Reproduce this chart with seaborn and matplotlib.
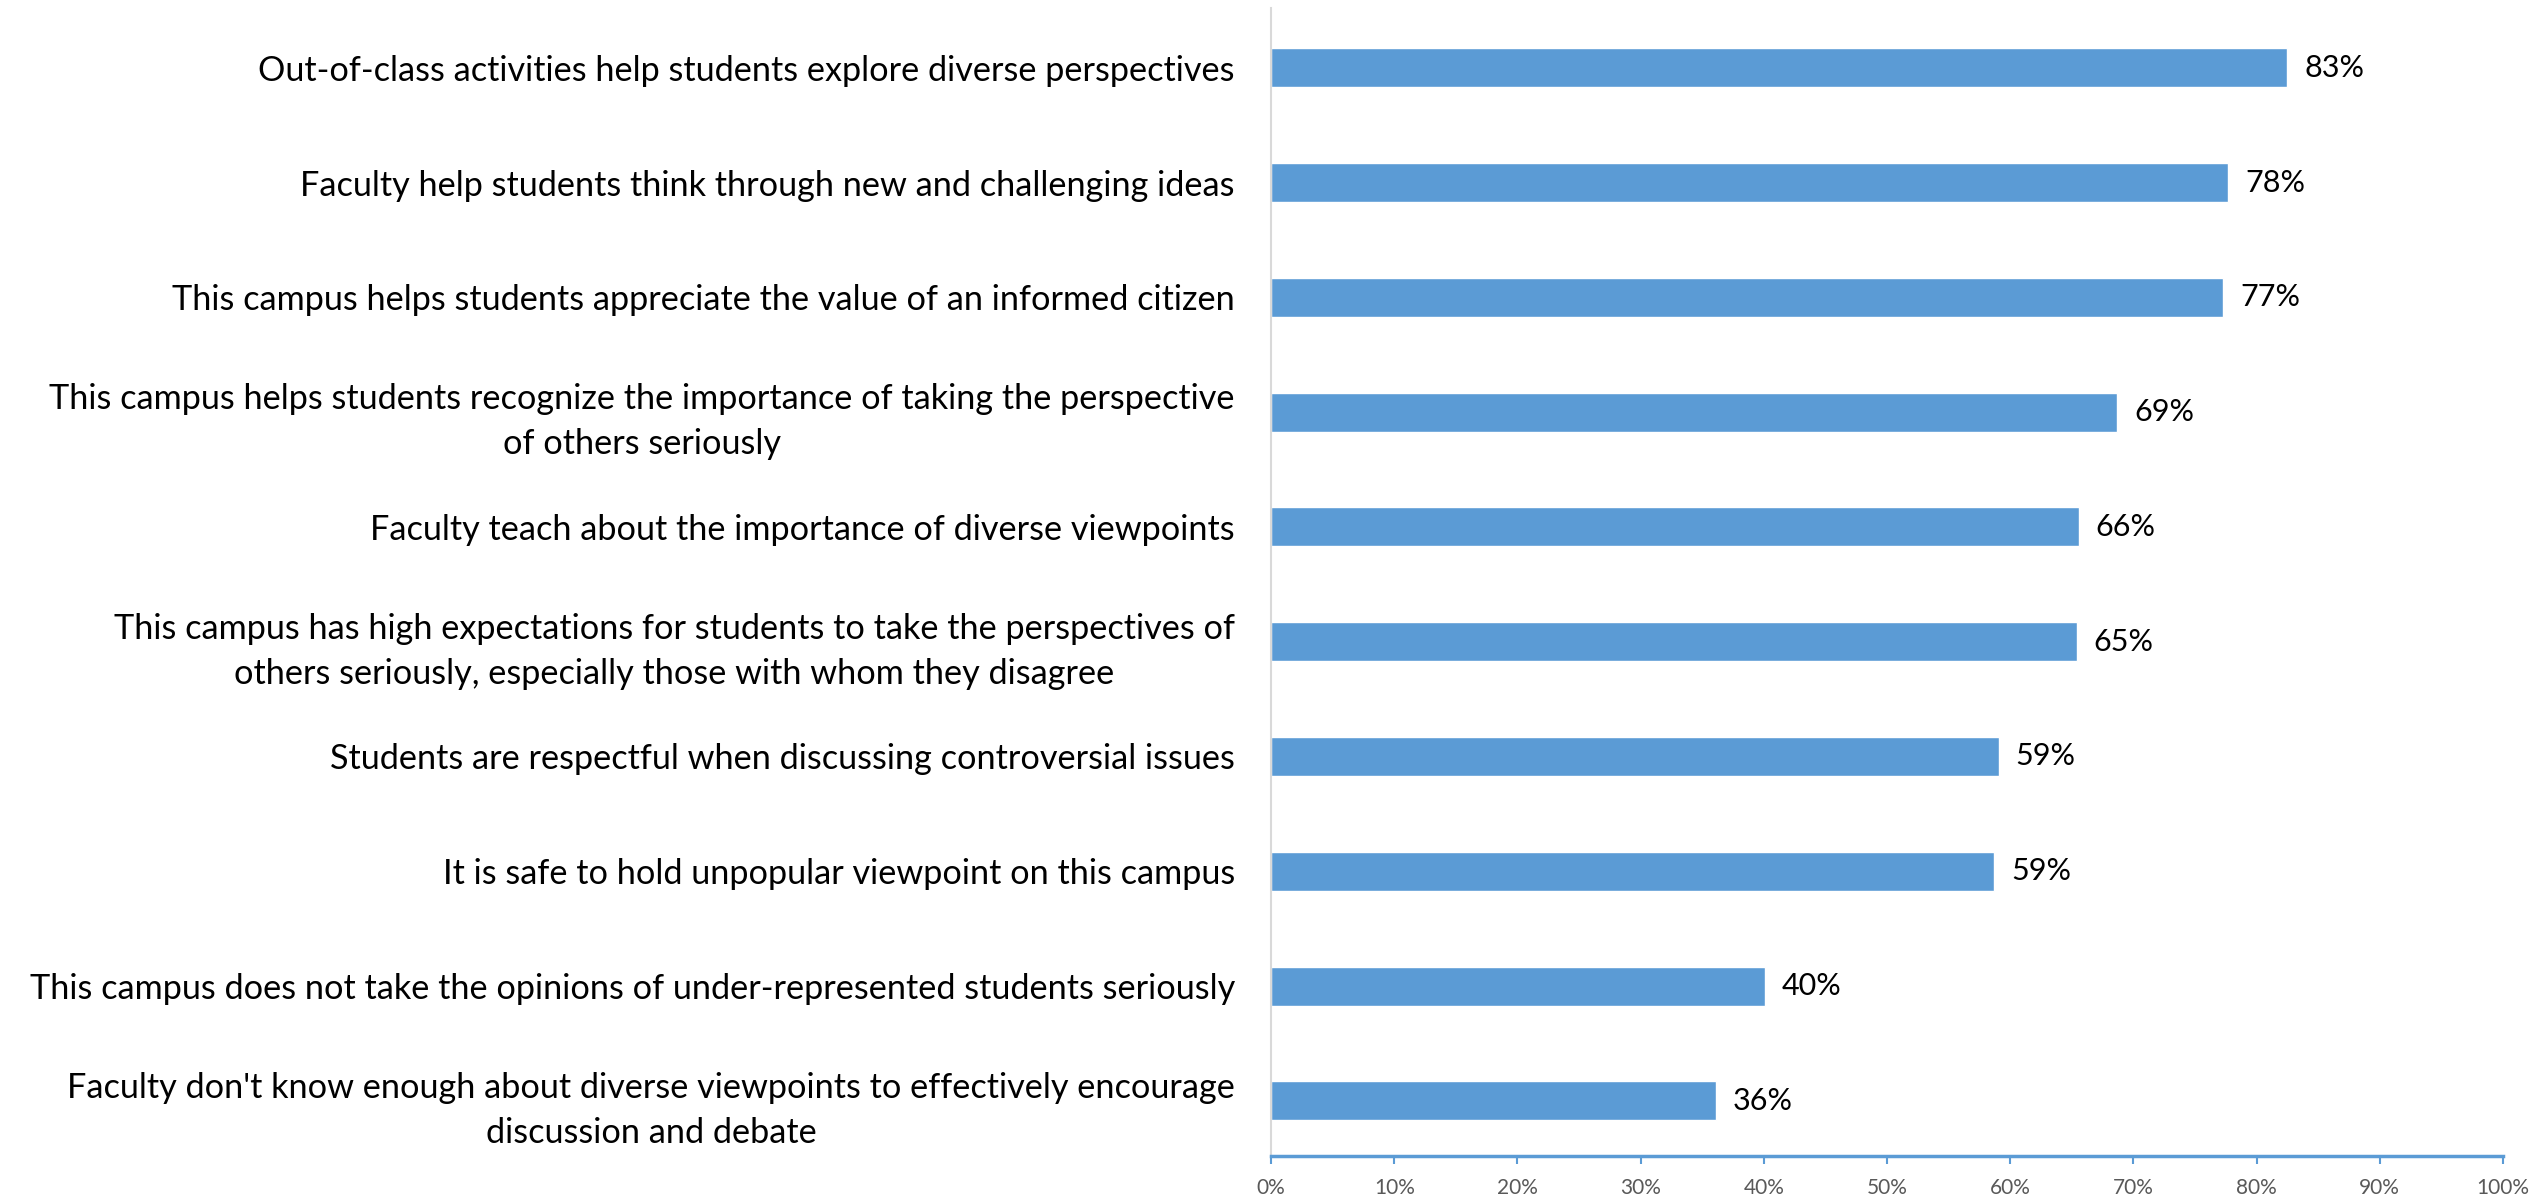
import matplotlib
matplotlib.use("Agg")
import matplotlib.pyplot as plt
import seaborn as sns
import pandas as pd

categories = [
    "Out-of-class activities help students explore diverse perspectives",
    "Faculty help students think through new and challenging ideas",
    "This campus helps students appreciate the value of an informed citizen",
    "This campus helps students recognize the importance of taking the perspective\nof others seriously",
    "Faculty teach about the importance of diverse viewpoints",
    "This campus has high expectations for students to take the perspectives of\nothers seriously, especially those with whom they disagree",
    "Students are respectful when discussing controversial issues",
    "It is safe to hold unpopular viewpoint on this campus",
    "This campus does not take the opinions of under-represented students seriously",
    "Faculty don't know enough about diverse viewpoints to effectively encourage\ndiscussion and debate",
]
values = [82.5, 77.7, 77.3, 68.7, 65.6, 65.4, 59.1, 58.7, 40.1, 36.1]
value_labels = ["83%", "78%", "77%", "69%", "66%", "65%", "59%", "59%", "40%", "36%"]
x_ticks = [0, 10, 20, 30, 40, 50, 60, 70, 80, 90, 100]
x_tick_labels = [f"{t}%" for t in x_ticks]

sns.set_theme(style="white")
plt.rcParams["font.family"] = ["Lato", "DejaVu Sans"]

df = pd.DataFrame({"cat": categories, "val": values})

fig = plt.figure(figsize=(25.39, 12.02), dpi=100)
ax = fig.add_axes([0.5006, 0.0383, 0.4852, 0.955])
sns.barplot(data=df, y="cat", x="val", orient="h", color="#5B9BD5",
            saturation=1, width=0.34, ax=ax)

ax.set_xlim(0, 100)
ax.set_ylim(9.48, -0.52)
ax.set_xticks(x_ticks)
ax.set_xticklabels(x_tick_labels, fontsize=15, color="#595959")
ax.set_xlabel("")
ax.set_ylabel("")
ax.tick_params(axis="x", direction="out", length=6, width=1.5, color="#5B9BD5", pad=10, bottom=True)
ax.tick_params(axis="y", length=0, pad=26)
for lab in ax.get_yticklabels():
    lab.set_fontsize(24.7)
    lab.set_color("black")
    lab.set_multialignment("center")
    lab.set_linespacing(1.5)

for s in ["top", "right"]:
    ax.spines[s].set_visible(False)
ax.spines["left"].set_color("#D9D9D9")
ax.spines["left"].set_linewidth(1.5)
ax.spines["bottom"].set_color("#5B9BD5")
ax.spines["bottom"].set_linewidth(2.5)

ax.bar_label(ax.containers[0], labels=value_labels, padding=12, fontsize=22, color="black")

fig.savefig("out.png", dpi=100)
